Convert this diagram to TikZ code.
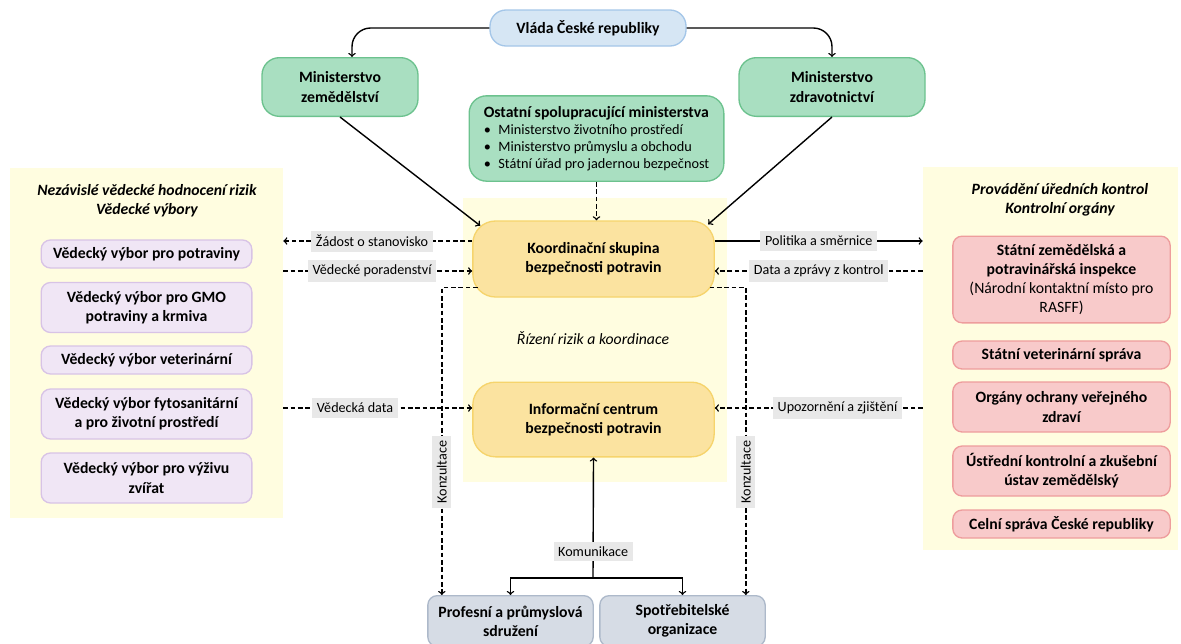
\documentclass[tikz,border=0pt]{standalone}
\usepackage{fontspec}
\setmainfont{Carlito}
\usetikzlibrary{positioning}

\definecolor{govfill}{HTML}{D6E6F4}
\definecolor{govline}{HTML}{A4C6E8}
\definecolor{minfill}{HTML}{A9DFC1}
\definecolor{minline}{HTML}{6CC28E}
\definecolor{panelfill}{HTML}{FFFDE0}
\definecolor{corefill}{HTML}{FBE3A0}
\definecolor{coreline}{HTML}{F6D46C}
\definecolor{scifill}{HTML}{F0E6F5}
\definecolor{sciline}{HTML}{D8C3E6}
\definecolor{ctrlfill}{HTML}{F8CACA}
\definecolor{ctrlline}{HTML}{EE9D9D}
\definecolor{stakefill}{HTML}{D6DCE5}
\definecolor{stakeline}{HTML}{ADB9CA}
\definecolor{lblfill}{HTML}{E8E8E8}

\begin{document}
\begin{tikzpicture}[x=0.75pt, y=-0.75pt, >={To[scale=1.15]},
    box/.style={draw, line width=1pt, align=center, inner sep=2pt,
      font=\fontsize{11.8}{14.4}\selectfont\bfseries},
    gov/.style={box, fill=govfill, draw=govline, rounded corners=12pt},
    mini/.style={box, fill=minfill, draw=minline, rounded corners=13pt},
    core/.style={box, fill=corefill, draw=coreline, rounded corners=17pt,
      minimum width=181pt, minimum height=57pt},
    sci/.style={box, fill=scifill, draw=sciline, rounded corners=7pt, minimum width=158pt},
    ctrl/.style={box, fill=ctrlfill, draw=ctrlline, rounded corners=7pt, minimum width=163pt},
    stake/.style={box, fill=stakefill, draw=stakeline, rounded corners=7pt,
      minimum width=124pt, minimum height=38pt},
    panel/.style={fill=panelfill, inner sep=0pt},
    paneltitle/.style={align=center, font=\fontsize{11.8}{14.4}\selectfont\bfseries\itshape},
    lbl/.style={fill=lblfill, inner sep=3.5pt, font=\fontsize{10.6}{12}\selectfont},
    link/.style={line width=1.05pt, ->},
    dlink/.style={link, dash pattern=on 3.5pt off 2pt}]

\useasboundingbox (0,0) rectangle (1181,643);

% background panels
\node[panel, minimum width=204.75pt, minimum height=262.5pt] (scipanel) at (146.5,343) {};
\node[panel, minimum width=191.25pt, minimum height=287.25pt] (ctrlpanel) at (1050.5,358.5) {};
\node[panel, minimum width=198pt, minimum height=213pt] (corepanel) at (595,340) {};
\node[paneltitle] (scititle) at (147,201) {Nezávislé vědecké hodnocení rizik\\Vědecké výbory};
\node[paneltitle] (ctrltitle) at (1060,200) {Provádění úředních kontrol\\Kontrolní orgány};
\node[font=\fontsize{11.8}{14}\selectfont\itshape] (rizeni) at (593,338) {Řízení rizik a koordinace};

% government and ministries
\node[gov, minimum width=147pt, minimum height=27pt] (vlada) at (588,28) {Vláda České republiky};
\node[mini, minimum width=117pt, minimum height=44pt] (minzem) at (340,87) {Ministerstvo\\zemědělství};
\node[mini, minimum width=139.5pt, minimum height=44pt] (minzdr) at (832,87) {Ministerstvo\\zdravotnictví};
\node[mini, minimum width=191pt, minimum height=64pt, align=left,
  font=\fontsize{10.7}{12.8}\selectfont] (ostatni) at (596.5,138.5)
  {\textbf{\fontsize{11.8}{13.5}\selectfont Ostatní spolupracující ministerstva}\\
   \makebox[11pt][l]{\textbullet}Ministerstvo životního prostředí\\
   \makebox[11pt][l]{\textbullet}Ministerstvo průmyslu a obchodu\\
   \makebox[11pt][l]{\textbullet}Státní úřad pro jadernou bezpečnost};

% core bodies
\node[core] (koord) at (593.5,259) {Koordinační skupina\\bezpečnosti potravin};
\node[core, minimum height=56pt] (info) at (593.5,419.5) {Informační centrum\\bezpečnosti potravin};

% scientific committees
\node[sci, minimum height=21pt] (vvpot) at (146.5,254) {Vědecký výbor pro potraviny};
\node[sci, minimum height=37.5pt] (vvgmo) at (146.5,307.5) {Vědecký výbor pro GMO\\potraviny a krmiva};
\node[sci, minimum height=21pt] (vvvet) at (146.5,360) {Vědecký výbor veterinární};
\node[sci, minimum height=37.5pt] (vvfyto) at (146.5,414) {Vědecký výbor fytosanitární\\a pro životní prostředí};
\node[sci, minimum height=37.5pt] (vvvyz) at (146.5,478) {Vědecký výbor pro výživu\\zvířat};

% control bodies
\node[ctrl, minimum height=65pt] (szpi) at (1061.5,279.5)
  {Státní zemědělská a\\potravinářská inspekce\\{\mdseries(Národní kontaktní místo pro}\\{\mdseries RASFF)}};
\node[ctrl, minimum height=21pt] (svs) at (1061.5,355) {Státní veterinární správa};
\node[ctrl, minimum height=37.5pt] (oovz) at (1061.5,407) {Orgány ochrany veřejného\\zdraví};
\node[ctrl, minimum height=37.5pt] (ukzuz) at (1061.5,471) {Ústřední kontrolní a zkušební\\ústav zemědělský};
\node[ctrl, minimum height=21pt] (celni) at (1061.5,524) {Celní správa České republiky};

% stakeholders
\node[stake] (prof) at (510.5,621) {Profesní a průmyslová\\sdružení};
\node[stake] (spot) at (682.5,621) {Spotřebitelské\\organizace};

% levels of the side arrows
\coordinate (lvlA) at (0,241);
\coordinate (lvlB) at (0,271);
\coordinate (lvlC) at (0,408);
\coordinate (kom) at (593,578);

% government lines
\draw[link, rounded corners=14pt] (vlada.west) -| ([xshift=9pt]minzem.north);
\draw[link, rounded corners=14pt] (vlada.east) -| (minzdr.north);
\draw[link] (minzem.south) -- ([shift={(6pt,-4pt)}]koord.north west);
\draw[link] (minzdr.south) -- ([shift={(-5pt,-3pt)}]koord.north east);
\draw[dlink] (ostatni.south) -- (ostatni.south |- koord.north);

% scientific side
\draw[dlink] (koord.west |- lvlA) -- node[lbl, pos=0.53] {Žádost o stanovisko} (scipanel.east |- lvlA);
\draw[dlink] (scipanel.east |- lvlB) -- node[lbl, pos=0.47] {Vědecké poradenství} (koord.west |- lvlB);
\draw[dlink] (scipanel.east |- lvlC) -- node[lbl, pos=0.38] {Vědecká data} (info.west |- lvlC);

% control side
\draw[link] (koord.east |- lvlA) -- node[lbl, pos=0.5] {Politika a směrnice} (ctrlpanel.west |- lvlA);
\draw[dlink] (ctrlpanel.west |- lvlB) -- node[lbl, pos=0.5] {Data a zprávy z kontrol} (koord.east |- lvlB);
\draw[dlink] (ctrlpanel.west |- lvlC) -- node[lbl, pos=0.41] {Upozornění a zjištění} (info.east |- lvlC);

% consultation
\draw[dlink] ([shift={(4pt,7.5pt)}]koord.south west) -| node[lbl, rotate=90, pos=0.8] {Konzultace} ([xshift=11pt]prof.north west);
\draw[dlink] ([shift={(-4pt,7.5pt)}]koord.south east) -| node[lbl, rotate=90, pos=0.8] {Konzultace} ([xshift=-15pt]spot.north east);

% communication
\draw[link] (kom) -- node[lbl, pos=0.22] {Komunikace} (info.south);
\draw[link] (kom) -| (prof.north);
\draw[link] (kom) -| (spot.north);
\end{tikzpicture}
\end{document}
